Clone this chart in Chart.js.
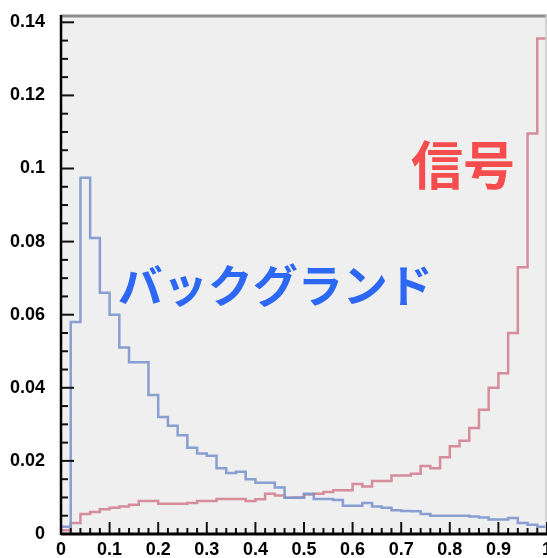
<!DOCTYPE html>
<html>
<head>
<meta charset="utf-8">
<script src="https://cdn.jsdelivr.net/npm/chart.js@4.4.1/dist/chart.umd.min.js"></script>
<style>
  html, body { margin: 0; padding: 0; background: #fff; }
</style>
</head>
<body>
<canvas id="myChart" width="547" height="558"></canvas>
<script>
// histogram contents, 50 bins of width 0.02 from 0 to 1
const binWidth = 0.02;
const background = [0.002, 0.058, 0.0975, 0.081, 0.066, 0.060, 0.051, 0.047, 0.047, 0.038,
  0.032, 0.0296, 0.027, 0.0236, 0.022, 0.0214, 0.018, 0.0167, 0.017, 0.015,
  0.014, 0.014, 0.0127, 0.0099, 0.0099, 0.011, 0.0096, 0.0096, 0.0093, 0.0077,
  0.0077, 0.0085, 0.0075, 0.0072, 0.0065, 0.0063, 0.0062, 0.0055, 0.005, 0.005,
  0.005, 0.005, 0.0048, 0.0045, 0.004, 0.004, 0.0044, 0.003, 0.0025, 0.002];
const signal = [0.001, 0.003, 0.0055, 0.006, 0.0068, 0.0072, 0.0075, 0.008, 0.009, 0.009,
  0.0083, 0.0083, 0.0083, 0.0085, 0.009, 0.009, 0.0096, 0.0096, 0.0096, 0.009,
  0.0095, 0.011, 0.0105, 0.0099, 0.0100, 0.0108, 0.011, 0.0115, 0.012, 0.012,
  0.0137, 0.013, 0.0145, 0.0145, 0.016, 0.016, 0.0165, 0.0186, 0.018, 0.021,
  0.024, 0.0255, 0.029, 0.034, 0.040, 0.044, 0.055, 0.073, 0.1096, 0.1356];

const xTickLabels = ['0', '0.1', '0.2', '0.3', '0.4', '0.5', '0.6', '0.7', '0.8', '0.9', '1'];
const yTickLabels = ['0', '0.02', '0.04', '0.06', '0.08', '0.1', '0.12', '0.14'];

// bin i is drawn from x = i*binWidth to (i+1)*binWidth
function histPoints(vals) {
  var pts = [{ x: 0, y: vals[0] }];
  vals.forEach(function (v, i) { pts.push({ x: (i + 1) * binWidth, y: v }); });
  return pts;
}

function onStep(v, step) {
  var k = Math.round(v / step);
  return Math.abs(k * step - v) < 1e-7 ? k : -1;
}

var tickFont = { family: '"Liberation Sans", Arial, sans-serif', size: 18, weight: 'bold' };

var frame = {
  id: 'frame',
  beforeDraw: function (chart) {
    var ctx = chart.ctx, a = chart.chartArea;
    ctx.save();
    ctx.fillStyle = '#efefef';
    ctx.fillRect(a.left, a.top, a.right - a.left, a.bottom - a.top);
    ctx.restore();
  },
  afterDraw: function (chart) {
    var ctx = chart.ctx, a = chart.chartArea, sx = chart.scales.x, sy = chart.scales.y;
    ctx.save();
    // top and right frame
    ctx.strokeStyle = '#8c8c8c';
    ctx.lineWidth = 3;
    ctx.beginPath(); ctx.moveTo(a.left, a.top + 1); ctx.lineTo(a.right, a.top + 1); ctx.stroke();
    ctx.strokeStyle = '#cccccc';
    ctx.lineWidth = 1.5;
    ctx.beginPath(); ctx.moveTo(a.right - 1, a.top); ctx.lineTo(a.right - 1, a.bottom); ctx.stroke();

    // inward ticks
    ctx.strokeStyle = '#111';
    ctx.lineWidth = 2;
    sx.ticks.forEach(function (t) {
      var px = sx.getPixelForValue(t.value);
      var len = onStep(t.value, 0.1) >= 0 ? 12 : 6;
      ctx.beginPath(); ctx.moveTo(px, a.bottom); ctx.lineTo(px, a.bottom - len); ctx.stroke();
    });
    sy.ticks.forEach(function (t) {
      var py = sy.getPixelForValue(t.value);
      var len = onStep(t.value, 0.02) >= 0 ? 13 : 7;
      ctx.beginPath(); ctx.moveTo(a.left, py); ctx.lineTo(a.left + len, py); ctx.stroke();
    });

    // axis lines
    ctx.strokeStyle = '#000';
    ctx.lineWidth = 2.5;
    ctx.beginPath(); ctx.moveTo(a.left, a.top); ctx.lineTo(a.left, a.bottom + 1); ctx.stroke();
    ctx.lineWidth = 3;
    ctx.beginPath(); ctx.moveTo(a.left, a.bottom); ctx.lineTo(a.right, a.bottom); ctx.stroke();

    // labels
    ctx.textBaseline = 'middle';
    ctx.textAlign = 'left';
    ctx.fillStyle = '#f54d4d';
    ctx.font = 'bold 52px "Noto Sans CJK JP", sans-serif';
    ctx.fillText('信号', sx.getPixelForValue(0.72), sy.getPixelForValue(0.101));
    ctx.fillStyle = '#2c68f3';
    ctx.font = 'bold 45px "Noto Sans CJK JP", sans-serif';
    ctx.fillText('バックグランド', sx.getPixelForValue(0.117), sy.getPixelForValue(0.068));
    ctx.restore();
  }
};

var ctx = document.getElementById('myChart');
var myChart = new Chart(ctx, {
  type: 'line',
  data: {
    datasets: [{
      label: 'バックグランド',
      data: histPoints(background),
      stepped: 'after',
      borderColor: 'rgba(125, 150, 205, 0.9)',
      borderWidth: 2.5,
      pointRadius: 0,
      fill: false
    }, {
      label: '信号',
      data: histPoints(signal),
      stepped: 'after',
      borderColor: 'rgba(210, 130, 145, 0.9)',
      borderWidth: 2.5,
      pointRadius: 0,
      fill: false
    }]
  },
  options: {
    responsive: false,
    animation: false,
    devicePixelRatio: 1,
    layout: { padding: { top: 15, right: 0, left: 0, bottom: 0 } },
    plugins: { legend: { display: false }, tooltip: { enabled: false } },
    scales: {
      x: {
        type: 'linear',
        min: 0,
        max: 1,
        grid: { display: false, drawTicks: false },
        border: { display: false },
        ticks: {
          stepSize: 0.02,
          autoSkip: false,
          maxRotation: 0,
          includeBounds: false,
          padding: 5,
          color: '#000',
          font: tickFont,
          callback: function (v) {
            var k = onStep(v, 0.1);
            return k >= 0 ? xTickLabels[k] : '';
          }
        },
        afterFit: function (s) { s.height = 24; s.paddingLeft = 0; s.paddingRight = 0; }
      },
      y: {
        min: 0,
        max: 0.142,
        grid: { display: false },
        border: { display: false },
        ticks: {
          stepSize: 0.005,
          autoSkip: false,
          includeBounds: false,
          padding: 8,
          color: '#000',
          font: tickFont,
          callback: function (v) {
            var k = onStep(v, 0.02);
            return k >= 0 ? yTickLabels[k] : '';
          }
        },
        afterFit: function (s) { s.width = 61; s.paddingTop = 0; s.paddingBottom = 0; }
      }
    }
  },
  plugins: [frame]
});
</script>
</body>
</html>
